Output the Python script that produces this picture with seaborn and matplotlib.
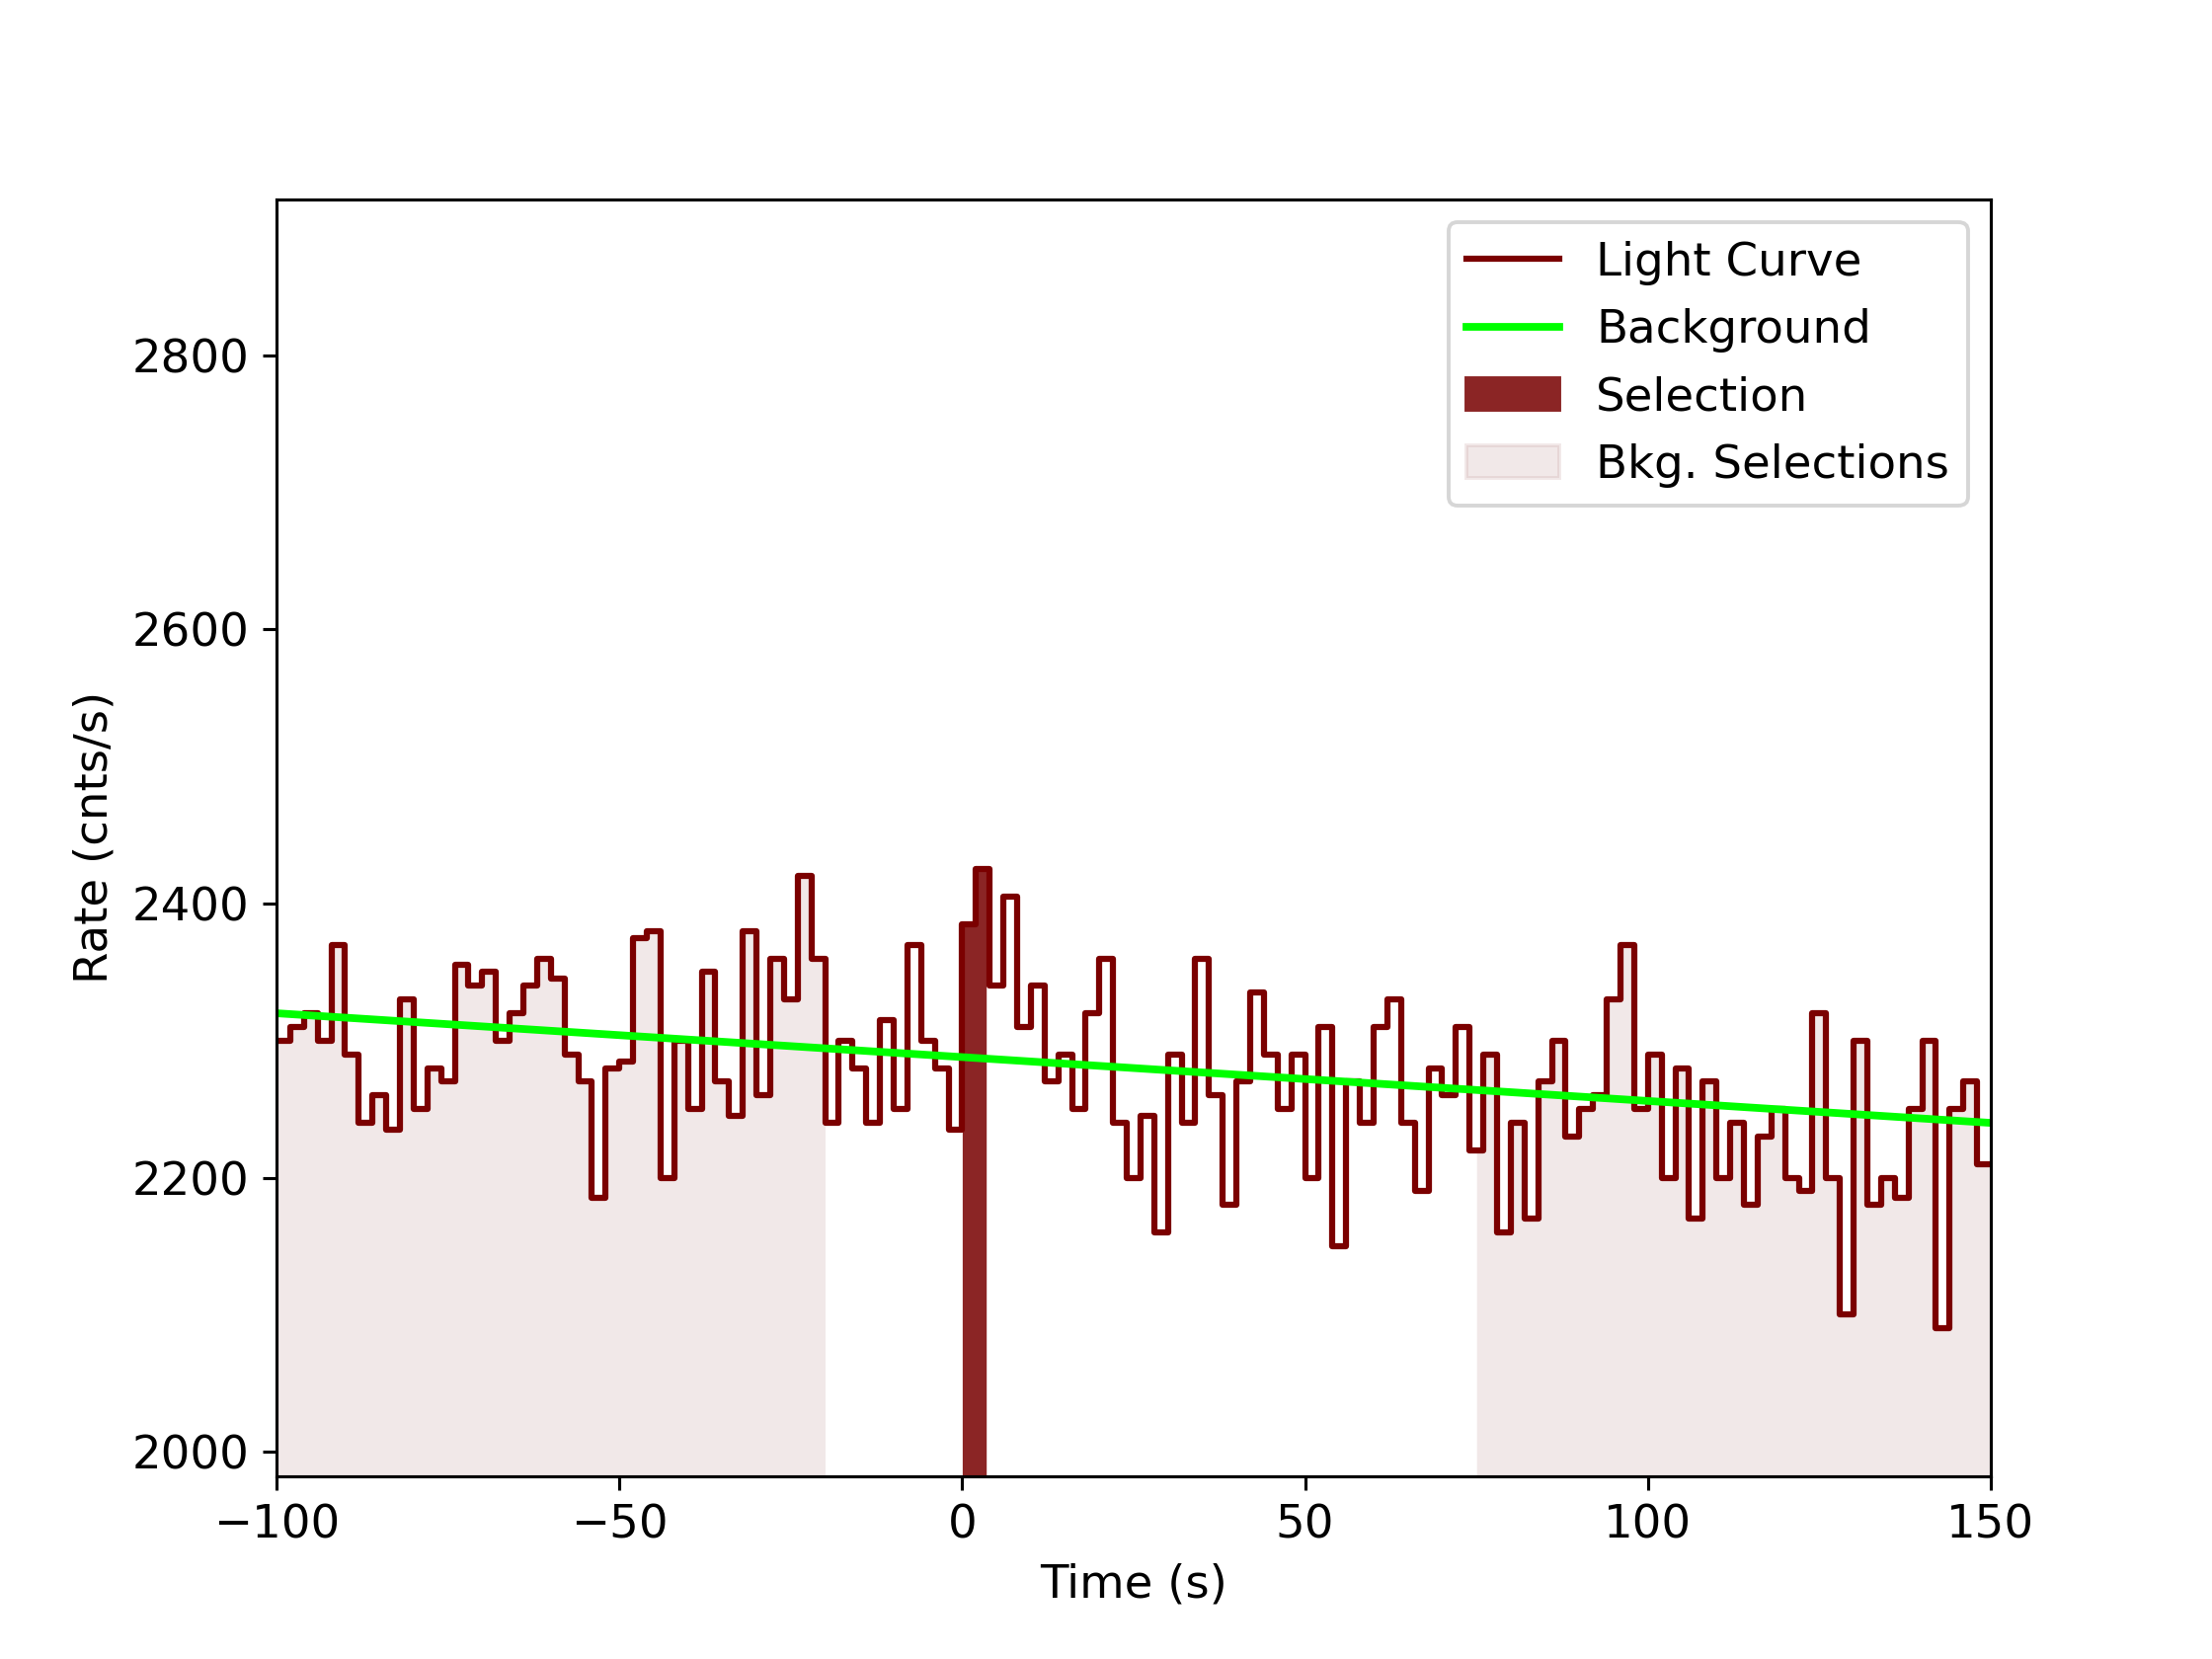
import numpy as np
import pandas as pd
import matplotlib
matplotlib.use("Agg")
import matplotlib.pyplot as plt
import seaborn as sns
from matplotlib.patches import Patch
from matplotlib.lines import Line2D

bin_start = -100.0
bin_width = 2.0
rates = [2300,2310,2320,2300,2370,2290,2240,2260,2235,2330,2250,2280,2270,2355,2340,2350,2300,2320,2340,2360,
         2345,2290,2270,2185,2280,2285,2375,2380,2200,2300,2250,2350,2270,2245,2380,2260,2360,2330,2420,2360,
         2240,2300,2280,2240,2315,2250,2370,2300,2280,2235,2385,2425,2340,2405,2310,2340,2270,2290,2250,2320,
         2360,2240,2200,2245,2160,2290,2240,2360,2260,2180,2270,2335,2290,2250,2290,2200,2310,2150,2270,2240,
         2310,2330,2240,2190,2280,2260,2310,2220,2290,2160,2240,2170,2270,2300,2230,2250,2260,2330,2370,2250,
         2290,2200,2280,2170,2270,2200,2240,2180,2230,2250,2200,2190,2320,2200,2100,2300,2180,2200,2185,2250,
         2300,2090,2250,2270,2210]
bkg_t = [-100, 150]
bkg_r = [2320, 2240]
sel = [0.0, 3.5]
bkg_sel = [[-100, -20], [75, 150]]

times = bin_start + bin_width * np.arange(len(rates))
t_edges = np.append(times, times[-1] + bin_width)
r_edges = np.append(rates, rates[-1])
df = pd.DataFrame({"t": t_edges, "r": r_edges})

def rate_at(t):
    i = np.clip(np.searchsorted(t_edges, t, side="right") - 1, 0, len(rates) - 1)
    return np.asarray(rates)[i]

fig, ax = plt.subplots(figsize=(8, 6), dpi=280)
ymin, ymax = 1982, 2914
for a, b in bkg_sel:
    tt = np.linspace(a, b, 2000)
    ax.fill_between(tt, ymin, rate_at(tt), color="rosybrown", alpha=0.2, lw=0)
tt = np.linspace(sel[0], sel[1], 200)
ax.fill_between(tt, ymin, rate_at(tt), color="#8b2525", lw=0)
sns.lineplot(data=df, x="t", y="r", drawstyle="steps-post", color="#7b0000", lw=1.6, ax=ax)
sns.lineplot(x=bkg_t, y=bkg_r, color="#00ff00", lw=2, ax=ax)
ax.set_xlim(-100, 150)
ax.set_ylim(ymin, ymax)
ax.set_yticks([2000, 2200, 2400, 2600, 2800])
ax.set_xlabel("Time (s)", fontsize=12)
ax.set_ylabel("Rate (cnts/s)", fontsize=12)
ax.tick_params(labelsize=12)
handles = [Line2D([], [], color="#7b0000", lw=1.6), Line2D([], [], color="#00ff00", lw=2),
           Patch(color="#8b2525"), Patch(color="rosybrown", alpha=0.2)]
ax.legend(handles, ["Light Curve", "Background", "Selection", "Bkg. Selections"], fontsize=12, loc="upper right")
fig.savefig("out.png", dpi=280)
